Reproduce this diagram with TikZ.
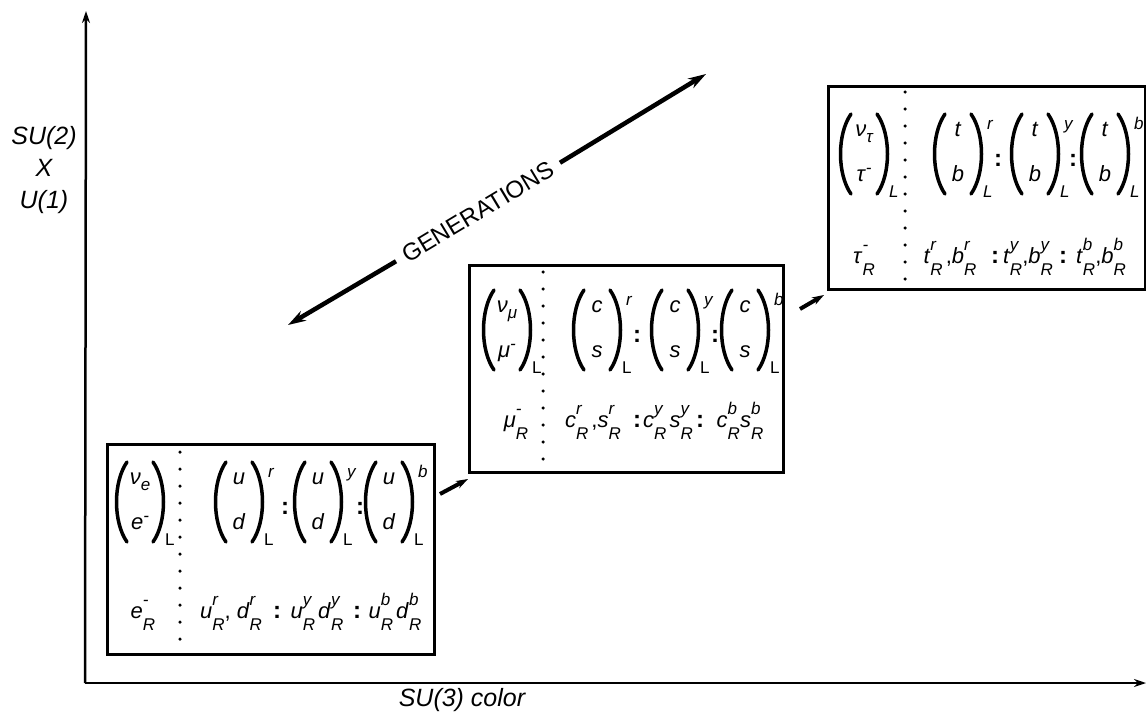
\documentclass[tikz,border=0pt]{standalone}
\usepackage{fontspec}
\setmainfont{Liberation Sans}
\usetikzlibrary{arrows.meta}
\newcommand\vi[1]{\textit{#1}}
\newcommand\scf{\fontsize{17}{17}\selectfont\itshape}
\newcommand\qR[2]{\textit{#1}\makebox[0pt][l]{\raisebox{13pt}{\scf #2}}\raisebox{-12pt}{\scf R}}
\newcommand\sbs[2]{\textit{#1}\raisebox{-6pt}{\scf #2}}
\newcommand\sps[2]{\textit{#1}\raisebox{8pt}{\scf #2}}
% doublet: name, x, y, top, bottom, sup, sub
\newcommand\doublet[7]{%
  \begin{scope}[shift={(#2,#3)}]
    \node[cell,anchor=base] (#1t) at (0,-18) {#4};
    \node[cell,anchor=base] (#1b) at (0,27) {#5};
    \draw[paren] (-13,-40) .. controls (-27,-20) and (-27,20) .. (-13,40);
    \draw[paren] (13,-40) .. controls (27,-20) and (27,20) .. (13,40);
    \node[scr,anchor=base west] (#1sup) at (29,-25) {#6};
    \node[scr,anchor=base west] (#1sub) at (25,43) {#7};
  \end{scope}}
\begin{document}
\begin{tikzpicture}[x=1pt,y=-1pt,
  box/.style={draw,line width=3pt,inner sep=0pt,anchor=north west},
  cell/.style={inner sep=0pt,font=\fontsize{22}{26}\selectfont},
  scr/.style={inner sep=0pt,font=\scf},
  colon/.style={inner sep=0pt,font=\fontsize{24}{26}\selectfont\bfseries},
  paren/.style={line width=3.5pt,line cap=round},
  lbl/.style={inner sep=0pt,font=\fontsize{25}{32}\selectfont\itshape},
  dotline/.style={line width=3.5pt,line cap=round,dash pattern=on 0pt off 17pt},
  axis/.style={line width=2.5pt,-{Stealth[length=12pt,width=8pt]}},
  bigarrow/.style={line width=4.5pt,-{Stealth[length=18pt,width=11pt]}},
  linkarrow/.style={line width=4pt,-{Stealth[length=12pt,width=8pt]}}
]
\useasboundingbox (0,0) rectangle (1146,715);

% axes
\coordinate (O) at (85,683);
\coordinate (ytop) at (86,11);
\coordinate (xend) at (1146,683);
\draw[axis] (O) -- (ytop);
\draw[axis] (O) -- (xend);
\node[lbl,align=center] (ylab) at (44,170) {SU(2)\\X\\U(1)};
\node[lbl] (xlab) at (462,700) {SU(3) color};

% generations arrow
\node[font=\fontsize{24}{28}\selectfont,rotate=31,inner sep=9pt] (gen) at (478,212) {GENERATIONS};
\coordinate (genL) at (288,325);
\coordinate (genR) at (706,74);
\draw[bigarrow] (gen.west) -- (genL);
\draw[bigarrow] (gen.east) -- (genR);

% ---------- box 1
\node[box,minimum width=327pt,minimum height=210pt] (box1) at (106,443) {};
\draw[dotline] (180,452) -- (180,652);
\doublet{l1}{140}{502}{\sbs{ν}{e}}{\sps{e}{-}}{}{\upshape L}
\doublet{q1a}{239}{502}{\vi{u}}{\vi{d}}{r}{\upshape L}
\node[colon] (c1a) at (285,508) {:};
\doublet{q1b}{318}{502}{\vi{u}}{\vi{d}}{y}{\upshape L}
\node[colon] (c1b) at (360,508) {:};
\doublet{q1c}{389}{502}{\vi{u}}{\vi{d}}{b}{\upshape L}
\node[cell,anchor=base] (r1) at (143,618) {\qR{e}{-}};
\node[cell,anchor=base] (r1a) at (231,618) {\qR{u}{r}, \qR{d}{r}};
\node[colon,anchor=base] (d1a) at (277,618) {:};
\node[cell,anchor=base] (r1b) at (317,618) {\qR{u}{y}\hspace{3pt}\qR{d}{y}};
\node[colon,anchor=base] (d1b) at (357,618) {:};
\node[cell,anchor=base] (r1c) at (395,618) {\qR{u}{b}\hspace{3pt}\qR{d}{b}};

% ---------- box 2
\node[box,minimum width=314pt,minimum height=207pt] (box2) at (468,264) {};
\draw[dotline] (543,272) -- (543,470);
\doublet{l2}{507}{330}{\sbs{ν}{μ}}{\sps{μ}{-}}{}{\upshape L}
\doublet{q2a}{597}{330}{\vi{c}}{\vi{s}}{r}{\upshape L}
\node[colon] (c2a) at (637,336) {:};
\doublet{q2b}{675}{330}{\vi{c}}{\vi{s}}{y}{\upshape L}
\node[colon] (c2b) at (715,336) {:};
\doublet{q2c}{745}{330}{\vi{c}}{\vi{s}}{b}{\upshape L}
\node[cell,anchor=base] (r2) at (516,427) {\qR{μ}{-}};
\node[cell,anchor=base] (r2a) at (593,427) {\qR{c}{r}\hspace{3pt},\qR{s}{r}};
\node[colon,anchor=base] (d2a) at (637,427) {:};
\node[cell,anchor=base] (r2b) at (668,427) {\qR{c}{y}\hspace{3pt}\qR{s}{y}};
\node[colon,anchor=base] (d2b) at (700,427) {:};
\node[cell,anchor=base] (r2c) at (740,427) {\qR{c}{b}\qR{s}{b}};

% ---------- box 3
\node[box,minimum width=317pt,minimum height=203pt] (box3) at (827,85) {};
\draw[dotline] (905,92) -- (905,287);
\doublet{l3}{864}{154}{\sbs{ν}{τ}}{\sps{τ}{-}}{}{L}
\doublet{q3a}{958}{154}{\vi{t}}{\vi{b}}{r}{L}
\node[colon] (c3a) at (998,160) {:};
\doublet{q3b}{1035}{154}{\vi{t}}{\vi{b}}{y}{L}
\node[colon] (c3b) at (1073,160) {:};
\doublet{q3c}{1105}{154}{\vi{t}}{\vi{b}}{b}{L}
\node[cell,anchor=base] (r3) at (864,263) {\qR{τ}{-}};
\node[cell,anchor=base] (r3a) at (950,263) {\qR{t}{r}\hspace{3pt},\qR{b}{r}};
\node[colon,anchor=base] (d3a) at (995,263) {:};
\node[cell,anchor=base] (r3b) at (1028,263) {\qR{t}{y},\qR{b}{y}};
\node[colon,anchor=base] (d3b) at (1063,263) {:};
\node[cell,anchor=base] (r3c) at (1101,263) {\qR{t}{b},\qR{b}{b}};

% links between boxes
\coordinate (k1a) at (440,494);
\coordinate (k1b) at (468,479);
\draw[linkarrow] (k1a) -- (k1b);
\coordinate (k2a) at (800,309);
\coordinate (k2b) at (824,295);
\draw[linkarrow] (k2a) -- (k2b);
\end{tikzpicture}
\end{document}
